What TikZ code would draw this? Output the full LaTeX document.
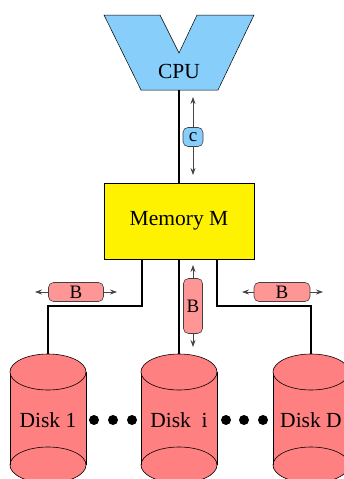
\documentclass[tikz,border=0pt]{standalone}
\usepackage{fontspec}
\setmainfont{Liberation Serif}
\usetikzlibrary{arrows.meta}
\definecolor{cpublue}{RGB}{135,206,250}
\definecolor{busred}{RGB}{255,150,150}
\definecolor{diskred}{RGB}{255,128,128}
\definecolor{arrgray}{RGB}{70,70,70}
\tikzset{
  wire/.style={line width=1.2pt, black},
  busarrow/.style={arrgray, line width=0.7pt, {Stealth[length=7pt,width=5pt]}-{Stealth[length=7pt,width=5pt]}},
  busnode/.style={draw=black!75, line width=0.6pt, fill=busred, rounded corners=5pt, inner sep=0pt, font=\fontsize{19}{21}\selectfont},
  disklabel/.style={font=\fontsize{21.5}{24}\selectfont},
  dot/.style={circle, fill=black, inner sep=0pt, minimum size=10pt}
}
\begin{document}
\begin{tikzpicture}[x=1pt,y=-1pt]
\useasboundingbox (0,0) rectangle (344,479);
\clip (0,0) rectangle (344,479);
% CPU
\fill[cpublue, draw=black, line width=0.5pt] (104,15) -- (160,15) -- (179,53) -- (197,15) -- (254,15) -- (218,90) -- (141,90) -- cycle;
\node[font=\fontsize{21.5}{24}\selectfont] (cpu) at (179,71) {CPU};
\coordinate (cpub) at (179,90);
% Memory
\node[draw=black, line width=0.5pt, fill=yellow, minimum width=150pt, minimum height=76pt, inner sep=0pt, font=\fontsize{21.5}{24}\selectfont] (mem) at (179,221) {Memory M};
\draw[wire] (cpub) -- (mem.north);
% c bus
\coordinate (ca) at (193,97);
\coordinate (cb) at (193,175);
\draw[busarrow] (ca) -- (cb);
\node[busnode, fill=cpublue, minimum width=20pt, minimum height=19pt] (c) at (193,137) {c};
% disks
\foreach \n/\cx/\lab in {d1/48/{Disk 1}, di/179/{Disk\ \ i}, dd/311/{Disk D}}{
  \fill[diskred] (\cx-38,372) -- (\cx-38,465) -- (\cx+38,465) -- (\cx+38,372) -- cycle;
  \fill[diskred] (\cx,465) ellipse [x radius=38, y radius=18];
  \draw[line width=0.6pt] (\cx-38,372) -- (\cx-38,465);
  \draw[line width=0.6pt] (\cx+38,372) -- (\cx+38,465);
  \draw[line width=0.6pt] (\cx,465) ellipse [x radius=38, y radius=18];
  \draw[line width=0.6pt, fill=diskred] (\cx,372) ellipse [x radius=38, y radius=18];
  \coordinate (\n top) at (\cx,354);
  \node[disklabel] (\n) at (\cx,420) {\lab};
}
% connectors memory -> disks
\coordinate (m1) at (142,259);
\coordinate (m3) at (217,259);
\draw[wire] (m1) |- (48,306) -- (d1top);
\draw[wire] (mem.south) -- (ditop);
\draw[wire] (m3) |- (311,306) -- (ddtop);
% B buses
\coordinate (b1a) at (35,292); \coordinate (b1b) at (117,292);
\draw[busarrow] (b1a) -- (b1b);
\node[busnode, minimum width=55pt, minimum height=19pt] (b1) at (76,292) {B};
\coordinate (b2a) at (193,265); \coordinate (b2b) at (193,347);
\draw[busarrow] (b2a) -- (b2b);
\node[busnode, minimum width=19pt, minimum height=55pt] (b2) at (193,306) {B};
\coordinate (b3a) at (242,292); \coordinate (b3b) at (323,292);
\draw[busarrow] (b3a) -- (b3b);
\node[busnode, minimum width=56pt, minimum height=19pt] (b3) at (282,292) {B};
% dots
\foreach \x/\nm in {94/p1,113/p2,132/p3,226/q1,244/q2,263/q3}{
  \node[dot] (\nm) at (\x,420) {};
}
\end{tikzpicture}
\end{document}
